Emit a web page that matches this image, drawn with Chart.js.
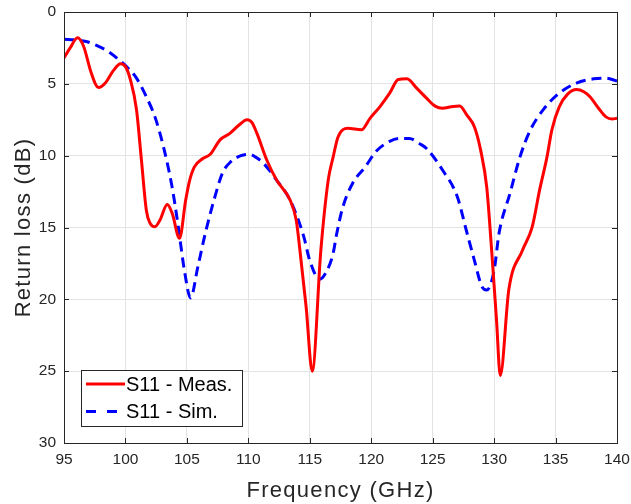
<!DOCTYPE html>
<html>
<head>
<meta charset="utf-8">
<script src="https://cdn.jsdelivr.net/npm/chart.js@4/dist/chart.umd.min.js"></script>
<style>
  html, body { margin: 0; padding: 0; background: #fff; }
  #wrap { width: 631px; height: 504px; }
</style>
</head>
<body>
<div id="wrap"><canvas id="s11-chart" width="631" height="504"></canvas></div>
<script>
// measured S11 (red, solid)
const measFreq = [95, 95.5, 96.1, 96.6, 97.2, 97.8, 98.4, 99.0, 99.6, 100.0, 100.4, 100.9, 101.3, 101.7, 102.0, 102.4, 102.8, 103.4, 103.8, 104.4,
  104.9, 105.2, 105.6, 106.3, 106.9, 107.7, 108.5, 109.2, 109.9, 110.3, 110.7, 111.5, 112.3, 113.4, 113.9, 114.2, 114.7, 115.2, 115.9,
  116.5, 116.9, 117.3, 118.1, 119.2, 119.9, 120.7, 121.5, 122.2, 122.9, 123.7, 124.5, 125.2, 125.8, 126.5, 127.2, 127.8, 128.4, 128.9,
  129.4, 129.8, 130.2, 130.5, 131.2, 132.3, 133.1, 133.7, 134.3, 134.7, 135.3, 136.0, 136.7, 137.3, 137.8, 138.5, 139.1, 139.6, 140];
const measLoss = [3.2, 2.5, 1.8, 2.4, 4.2, 5.25, 4.9, 4.1, 3.6, 3.8, 4.7, 6.8, 10.3, 13.8, 14.7, 14.95, 14.5, 13.4, 14.0, 15.75,
  13.1, 11.8, 10.8, 10.2, 9.9, 8.9, 8.45, 7.9, 7.5, 7.7, 8.45, 10.3, 11.7, 13.1, 14.5, 16.6, 20.5, 25.0, 16.6,
  11.7, 10.1, 8.7, 8.1, 8.2, 7.4, 6.6, 5.65, 4.7, 4.65, 5.3, 6.0, 6.55, 6.7, 6.6, 6.55, 7.2, 8.0, 9.6,
  12.2, 16.6, 21.5, 25.3, 19.3, 16.6, 14.95, 12.4, 10.1, 8.2, 6.6, 5.7, 5.4, 5.55, 5.9, 6.7, 7.3, 7.45, 7.4];

// simulated S11 (blue, dashed)
const simFreq = [95, 96, 96.8, 97.6, 98.6, 99.5, 100.2, 100.9, 101.7, 102.4, 103.1, 103.8, 104.3, 104.8, 105.3, 105.9, 106.5, 107.2,
  107.9, 108.6, 109.4, 110.1, 110.6, 111.2, 112.3, 113.4, 114.5, 115.0, 115.8, 116.4, 116.9, 117.2, 117.7, 118.5, 119.5, 120.4,
  121.5, 122.3, 123.1, 124.0, 124.5, 125.8, 127.0, 127.8, 128.4, 129.0, 129.4, 130.0, 130.4, 131.3, 132.1, 132.9, 134.0, 135.3,
  136.7, 138.1, 139.0, 140];
const simLoss = [1.9, 1.95, 2.05, 2.3, 2.75, 3.35, 3.9, 4.6, 5.9, 7.3, 9.4, 12.2, 14.95, 18.0, 19.9, 17.7, 15.4, 13.1,
  11.2, 10.4, 10.0, 9.9, 10.1, 10.5, 11.7, 13.1, 15.6, 17.3, 18.6, 18.0, 16.8, 15.4, 13.55, 11.9, 10.8, 9.7,
  9.0, 8.8, 8.8, 9.2, 9.5, 11.0, 12.85, 15.4, 17.3, 19.1, 19.35, 18.0, 15.4, 12.6, 10.1, 8.3, 6.8, 5.65,
  4.95, 4.65, 4.6, 4.8];

const seriesLabels = ['S11 - Meas.', 'S11 - Sim.'];
const xTicks = [95, 100, 105, 110, 115, 120, 125, 130, 135, 140];
const yTicks = [0, 5, 10, 15, 20, 25, 30];

const axisColor = '#262626';
const fontFamily = '"Liberation Sans", Arial, Helvetica, sans-serif';

function toPoints(xs, ys) {
  return xs.map((x, i) => ({ x: x, y: ys[i] }));
}

// box, inward ticks, axis titles and legend, MATLAB style
const matlabFrame = {
  id: 'matlabFrame',
  afterDatasetsDraw(chart) {
    const ctx = chart.ctx;
    const a = chart.chartArea;
    const xs = chart.scales.x;
    const ys = chart.scales.y;
    ctx.save();
    ctx.strokeStyle = axisColor;
    ctx.lineWidth = 1;
    ctx.beginPath();
    xTicks.forEach(v => {
      const px = Math.round(xs.getPixelForValue(v)) + 0.5;
      ctx.moveTo(px, a.bottom); ctx.lineTo(px, a.bottom - 5);
      ctx.moveTo(px, a.top); ctx.lineTo(px, a.top + 5);
    });
    yTicks.forEach(v => {
      const py = Math.round(ys.getPixelForValue(v)) + 0.5;
      ctx.moveTo(a.left, py); ctx.lineTo(a.left + 5, py);
      ctx.moveTo(a.right, py); ctx.lineTo(a.right - 5, py);
    });
    ctx.stroke();
    ctx.strokeRect(Math.round(a.left) + 0.5, Math.round(a.top) + 0.5,
      Math.round(a.right - a.left), Math.round(a.bottom - a.top));

    // legend
    const lx = 81, ly = 370, lw = 161, lh = 56;
    ctx.fillStyle = '#fff';
    ctx.fillRect(lx, ly, lw, lh);
    ctx.strokeStyle = axisColor;
    ctx.strokeRect(lx + 0.5, ly + 0.5, lw, lh);
    const rows = [ly + 14, ly + 41.5];
    chart.data.datasets.forEach((ds, i) => {
      ctx.strokeStyle = ds.borderColor;
      ctx.lineWidth = 3;
      ctx.setLineDash(i === 1 ? [10, 11] : []);
      ctx.beginPath();
      ctx.moveTo(lx + 5, rows[i]);
      ctx.lineTo(lx + 44, rows[i]);
      ctx.stroke();
      ctx.setLineDash([]);
      ctx.fillStyle = '#000';
      ctx.font = '20px ' + fontFamily;
      ctx.textAlign = 'left';
      ctx.textBaseline = 'middle';
      ctx.fillText(ds.label, lx + 45, rows[i] + 1);
    });

    // axis titles
    ctx.fillStyle = axisColor;
    ctx.font = '22px ' + fontFamily;
    ctx.letterSpacing = '1.3px';
    ctx.textAlign = 'center';
    ctx.textBaseline = 'alphabetic';
    ctx.fillText('Frequency (GHz)', (a.left + a.right) / 2, 497);
    ctx.translate(30, (a.top + a.bottom) / 2);
    ctx.rotate(-Math.PI / 2);
    ctx.fillText('Return loss (dB)', 0, 0);
    ctx.restore();
  }
};

const s11Chart = new Chart(document.getElementById('s11-chart'), {
  type: 'line',
  data: {
    datasets: [
      {
        label: seriesLabels[0],
        data: toPoints(measFreq, measLoss),
        borderColor: '#ff0000',
        borderWidth: 3,
        pointRadius: 0,
        cubicInterpolationMode: 'monotone',
        fill: false
      },
      {
        label: seriesLabels[1],
        data: toPoints(simFreq, simLoss),
        borderColor: '#0000ff',
        borderWidth: 3,
        borderDash: [10, 6],
        pointRadius: 0,
        cubicInterpolationMode: 'monotone',
        fill: false
      }
    ]
  },
  options: {
    responsive: false,
    animation: false,
    layout: { padding: { left: 0, right: 14, top: 12, bottom: 0 } },
    plugins: {
      legend: { display: false },
      tooltip: { enabled: false }
    },
    scales: {
      x: {
        type: 'linear',
        min: 95,
        max: 140,
        afterFit: s => { s.height = 61; s.paddingLeft = 0; s.paddingRight = 0; },
        afterBuildTicks: s => { s.ticks = xTicks.map(v => ({ value: v })); },
        grid: { color: '#e3e3e3', drawTicks: false },
        border: { display: false },
        ticks: { padding: 7, color: axisColor, font: { family: fontFamily, size: 15.5 }, maxRotation: 0 }
      },
      y: {
        type: 'linear',
        reverse: true,
        min: 0,
        max: 30,
        afterFit: s => { s.width = 64; s.paddingTop = 0; s.paddingBottom = 0; },
        afterBuildTicks: s => { s.ticks = yTicks.map(v => ({ value: v })); },
        grid: { color: '#e3e3e3', drawTicks: false },
        border: { display: false },
        ticks: { padding: 8, color: axisColor, font: { family: fontFamily, size: 15.5 } }
      }
    }
  },
  plugins: [matlabFrame]
});
</script>
</body>
</html>
